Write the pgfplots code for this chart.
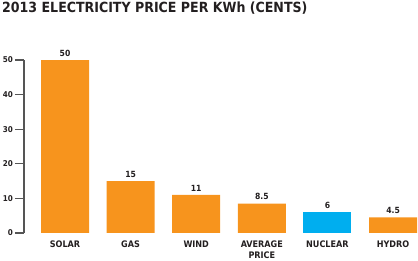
\documentclass[border=0pt]{standalone}
\usepackage{pgfplots}
\pgfplotsset{compat=1.18}
\usepackage{fontspec}
\setmainfont{DejaVu Sans Condensed}
\definecolor{orng}{HTML}{F7941D}
\definecolor{blu}{HTML}{00AEEF}
\definecolor{txt}{HTML}{231F20}
\definecolor{axg}{HTML}{555555}
\begin{document}
\begin{tikzpicture}[x=1pt,y=1pt]
\useasboundingbox (0,0) rectangle (418,260);
\node[anchor=west,font=\fontsize{14}{14}\selectfont\bfseries,text=txt,inner sep=0pt] at (2,252) {2013 ELECTRICITY PRICE PER KWh (CENTS)};
\begin{axis}[
  at={(24pt,27pt)}, anchor=south west,
  scale only axis, width=394pt, height=173pt,
  xmin=-0.625, xmax=5.38, ymin=0, ymax=50,
  axis lines=left,
  x axis line style={draw=none},
  y axis line style={draw=axg,line width=1.2pt,-},
  xtick={0,1,2,3,4,5},
  xticklabels={SOLAR,GAS,WIND,AVERAGE\\PRICE,NUCLEAR,HYDRO},
  xtick style={draw=none},
  xticklabel style={font=\fontsize{9}{10.5}\selectfont\bfseries,text=txt,align=center,anchor=north,yshift=4.5pt},
  ytick={0,10,20,30,40,50},
  ytick style={draw=axg,line width=1.2pt},
  tick align=outside, major tick length=9pt,
  yticklabel style={font=\fontsize{8}{9}\selectfont\bfseries,text=txt,inner sep=0pt,anchor=east,xshift=-2pt},
  /pgf/number format/assume math mode=true,
  ybar, bar width=48pt, bar shift=0pt,
  nodes near coords,
  every node near coord/.append style={font=\fontsize{8.5}{9}\selectfont\bfseries,text=txt,yshift=0pt},
  clip=false,
]
\addplot[fill=orng,draw=none] coordinates {(0,50) (1,15) (2,11) (3,8.5) (5,4.5)};
\addplot[fill=blu,draw=none] coordinates {(4,6)};
\end{axis}
\end{tikzpicture}
\end{document}
